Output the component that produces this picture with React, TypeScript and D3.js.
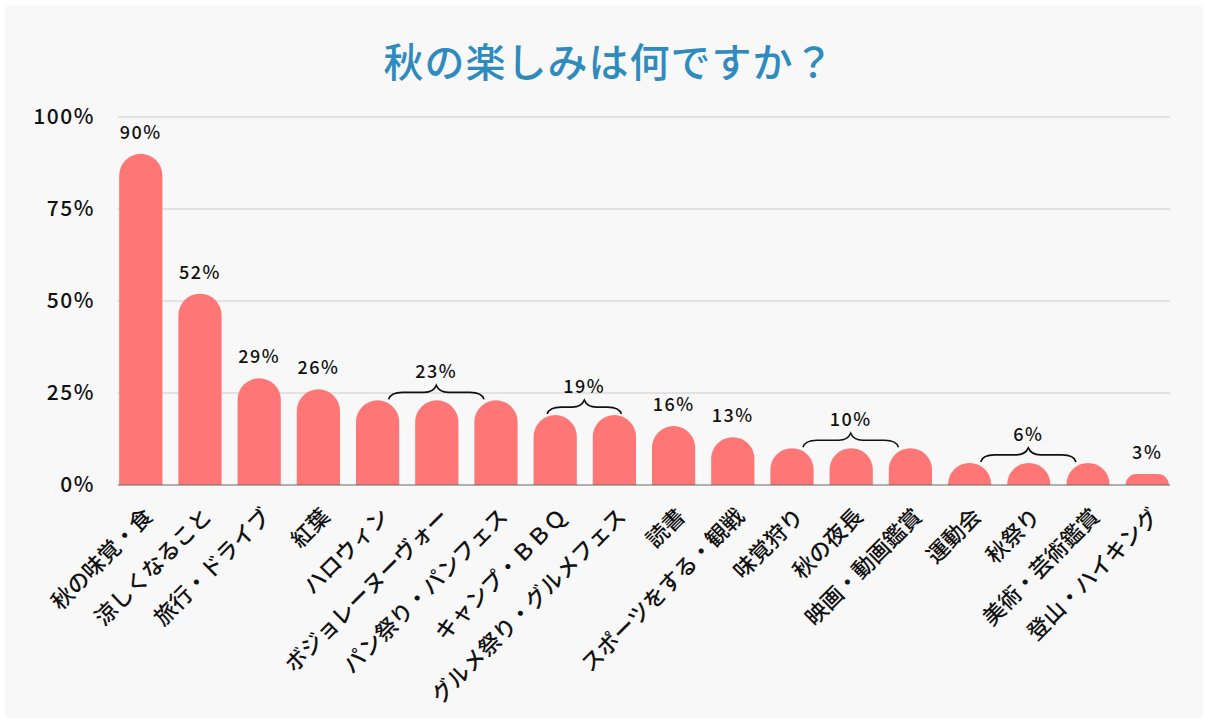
import React from "react";
import * as d3 from "d3";

const categories = ["秋の味覚・食","涼しくなること","旅行・ドライブ","紅葉","ハロウィン","ボジョレーヌーヴォー","パン祭り・パンフェス","キャンプ・ＢＢＱ","グルメ祭り・グルメフェス","読書","スポーツをする・観戦","味覚狩り","秋の夜長","映画・動画鑑賞","運動会","秋祭り","美術・芸術鑑賞","登山・ハイキング"];
const values = [90,52,29,26,23,23,23,19,19,16,13,10,10,10,6,6,6,3];
const yTicks = [0,25,50,75,100];
// bars labelled individually
const singleLabels = [0,1,2,3,9,10,17];
// grouped labels with braces: [startIndex, endIndex]
const groups: [number, number][] = [[4,6],[7,8],[11,13],[14,16]];

const W = 1210, H = 726;
const plotLeft = 118, plotRight = 1170, plotTop = 117, plotBottom = 485;
const font = "'Noto Sans CJK JP', 'Noto Sans', sans-serif";

function barPath(x: number, y: number, w: number, h: number) {
  const r = Math.min(w / 2, h);
  return `M${x},${y + h} L${x},${y + r} A${r},${r} 0 0 1 ${x + r},${y} L${x + w - r},${y} A${r},${r} 0 0 1 ${x + w},${y + r} L${x + w},${y + h} Z`;
}

function bracePath(x1: number, x2: number, y: number) {
  const m = (x1 + x2) / 2;
  const d = 7;
  return `M${x1},${y + d} Q${x1 + 2},${y} ${x1 + 14},${y} L${m - 12},${y} Q${m - 3},${y} ${m},${y - d} Q${m + 3},${y} ${m + 12},${y} L${x2 - 14},${y} Q${x2 - 2},${y} ${x2},${y + d}`;
}

export default function App() {
  const x = d3.scaleBand<string>().domain(categories).range([plotLeft, plotRight]).paddingInner(0.27).paddingOuter(0.02);
  const y = d3.scaleLinear().domain([0, 100]).range([plotBottom, plotTop]);
  const bw = x.bandwidth();
  const cx = (i: number) => (x(categories[i]) as number) + bw / 2;

  return (
    <svg width={W} height={H} style={{ position: "absolute", left: 0, top: 0 }}>
      <rect x={0} y={0} width={W} height={H} fill="#ffffff" />
      <rect x={5} y={5} width={1198} height={713} fill="#f8f8f8" />
      <text x={609} y={77} textAnchor="middle" fontFamily={font} fontSize={40} fontWeight={500} fill="#2f8bbd" letterSpacing={1}>秋の楽しみは何ですか？</text>
      {yTicks.map((t) => (
        <g key={t}>
          {t > 0 && <line x1={plotLeft} x2={plotRight} y1={y(t)} y2={y(t)} stroke="#cccccc" strokeWidth={1.2} />}
          <text x={95} y={y(t) + 7} textAnchor="end" fontFamily={font} fontSize={21} fontWeight={500} fill="#111" letterSpacing={1.5}>{t}%</text>
        </g>
      ))}
      {values.map((v, i) => (
        <path key={i} d={barPath(x(categories[i]) as number, y(v), bw, plotBottom - y(v))} fill="#ff7676" />
      ))}
      <line x1={plotLeft} x2={plotRight} y1={plotBottom} y2={plotBottom} stroke="#666" strokeWidth={1.2} />
      {singleLabels.map((i) => (
        <text key={i} x={cx(i)} y={y(values[i]) - 15} textAnchor="middle" fontFamily={font} fontSize={18} fontWeight={500} fill="#111" letterSpacing={1.5}>{values[i]}%</text>
      ))}
      {groups.map(([a, b], k) => {
        const by = y(values[a]) - 8;
        const two = b - a === 1;
        const x1 = two ? cx(a) - 8 : cx(a) + 11;
        const x2 = two ? cx(b) + 7 : cx(b) - 12;
        return (
          <g key={k}>
            <path d={bracePath(x1, x2, by)} fill="none" stroke="#111" strokeWidth={1.6} />
            <text x={(x1 + x2) / 2} y={by - 14} textAnchor="middle" fontFamily={font} fontSize={18} fontWeight={500} fill="#111" letterSpacing={1.5}>{values[a]}%</text>
          </g>
        );
      })}
      {categories.map((c, i) => (
        <text key={c} transform={`translate(${cx(i) + 13},${plotBottom + 33}) rotate(-45)`} textAnchor="end" fontFamily={font} fontSize={22} fontWeight={500} fill="#111">{c}</text>
      ))}
    </svg>
  );
}
